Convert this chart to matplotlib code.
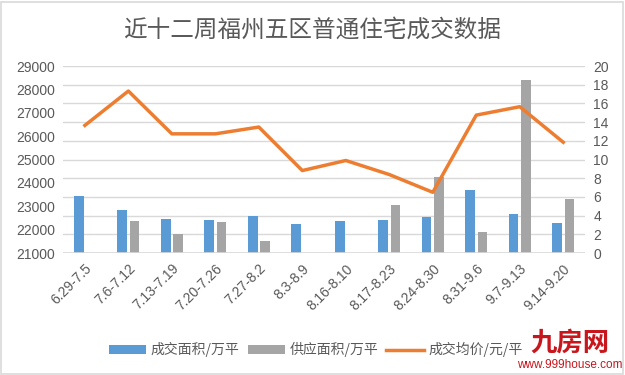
import matplotlib
matplotlib.use("Agg")
import matplotlib.pyplot as plt
import numpy as np
from matplotlib.patches import Rectangle

plt.rcParams['font.family'] = ['Noto Sans CJK SC', 'DejaVu Sans']

# ================== Data ==================
weeks = ["6.29-7.5", "7.6-7.12", "7.13-7.19", "7.20-7.26", "7.27-8.2", "8.3-8.9",
         "8.16-8.10", "8.17-8.23", "8.24-8.30", "8.31-9.6", "9.7-9.13", "9.14-9.20"]
deal_area = [6.1, 4.6, 3.7, 3.5, 4.0, 3.1, 3.4, 3.5, 3.9, 6.8, 4.2, 3.25]
supply_area = [0, 3.4, 2.0, 3.3, 1.25, 0, 0, 5.1, 8.1, 2.25, 18.5, 5.8]
avg_price = [26460, 27930, 26100, 26100, 26390, 24530, 24960, 24360, 23600, 26900, 27260, 25740]

title = "近十二周福州五区普通住宅成交数据"
label_deal = "成交面积/万平"
label_supply = "供应面积/万平"
label_price = "成交均价/元/平"

c_blue = "#5B9BD5"
c_gray = "#A5A5A5"
c_orange = "#ED7D31"
c_text = "#595959"
c_grid = "#D9D9D9"

# ================== Plot ==================
fig = plt.figure(figsize=(6.25, 3.75), dpi=100)
ax = fig.add_axes([0.101, 0.325, 0.835, 0.499])
ax2 = ax.twinx()

x = np.arange(len(weeks))
w = 0.22
ax2.bar(x - 0.14, deal_area, width=w, color=c_blue, label=label_deal, zorder=2)
ax2.bar(x + 0.14, supply_area, width=w, color=c_gray, label=label_supply, zorder=2)

ax.plot(x, avg_price, color=c_orange, linewidth=2.5, label=label_price, zorder=3)

# price line must sit above the bars
ax.set_zorder(ax2.get_zorder() + 1)
ax.patch.set_visible(False)

ax.set_ylim(21000, 29000)
ax.set_yticks(range(21000, 29001, 1000))
ax2.set_ylim(0, 20)
ax2.set_yticks(range(0, 21, 2))
ax.set_xlim(-0.5, len(weeks) - 0.5)
ax.set_xticks(x)
ax.set_xticklabels(weeks, rotation=45, ha="right", rotation_mode="anchor")

for a in (ax, ax2):
    for s in a.spines.values():
        s.set_visible(False)
    a.tick_params(length=0, labelsize=10, labelcolor=c_text)
    for lab in a.get_yticklabels() + a.get_xticklabels():
        lab.set_family("Liberation Sans")
ax.tick_params(axis="x", pad=6)
ax2.tick_params(axis="y", pad=6)
ax.tick_params(axis="y", pad=6)

ax2.grid(axis="y", color=c_grid, linewidth=1, zorder=0)
ax2.set_axisbelow(True)
ax.axhline(21000, color=c_grid, linewidth=1.2, zorder=1)

fig.text(0.5, 0.92, title, ha="center", va="center", fontsize=17, color=c_text)

h1, l1 = ax2.get_legend_handles_labels()
h2, l2 = ax.get_legend_handles_labels()
fig.legend(h1 + h2, l1 + l2, loc="center", bbox_to_anchor=(0.505, 0.067), ncol=3,
           frameon=False, fontsize=10, labelcolor=c_text, handlelength=2.7,
           handleheight=0.7, columnspacing=0.6, handletextpad=0.3)

# watermark
fig.text(0.912, 0.085, "九房网", ha="center", va="center", fontsize=19,
         color="#C8161D", fontweight="bold")
fig.text(0.912, 0.027, "www.999house.com", ha="center", va="center", fontsize=8.5,
         color="#C8161D", family="Liberation Sans")

fig.patches.append(Rectangle((0.002, 0.003), 0.995, 0.993, transform=fig.transFigure,
                             fill=False, edgecolor="#D9D9D9", linewidth=1.2))

fig.savefig("out.png", dpi=100)
